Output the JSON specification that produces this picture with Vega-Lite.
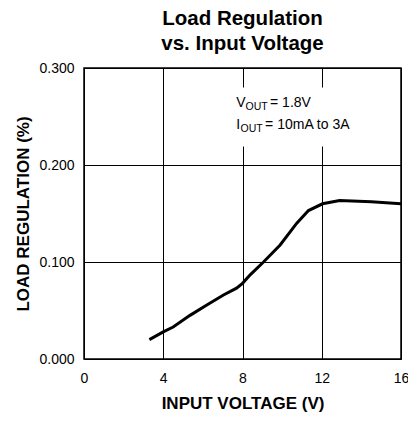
{
  "$schema": "https://vega.github.io/schema/vega-lite/v6.json",
  "width": 317,
  "height": 291,
  "autosize": "none",
  "padding": {"left": 84, "top": 68, "right": 7, "bottom": 63},
  "background": "white",
  "config": {
    "font": "Liberation Sans",
    "view": {"stroke": "#000", "strokeWidth": 1.5},
    "axis": {
      "grid": true,
      "gridColor": "#000",
      "gridOpacity": 1,
      "gridWidth": 1,
      "ticks": false,
      "domain": false,
      "labelFlush": false,
      "labelFontSize": 14,
      "labelColor": "#000",
      "titleColor": "#000",
      "titleFontSize": 17,
      "titleFontWeight": "bold"
    },
    "title": {"fontSize": 20.5, "fontWeight": "bold", "color": "#000", "anchor": "middle", "lineHeight": 25, "offset": 7}
  },
  "title": {"text": ["Load Regulation", "vs. Input Voltage"]},
  "datasets": {
    "curve": [
      {"vin": 3.3, "reg": 0.020},
      {"vin": 4.0, "reg": 0.028},
      {"vin": 4.5, "reg": 0.033},
      {"vin": 5.35, "reg": 0.045},
      {"vin": 6.2, "reg": 0.0557},
      {"vin": 7.04, "reg": 0.066},
      {"vin": 7.7, "reg": 0.073},
      {"vin": 8.0, "reg": 0.078},
      {"vin": 8.4, "reg": 0.087},
      {"vin": 9.06, "reg": 0.100},
      {"vin": 9.9, "reg": 0.1175},
      {"vin": 10.74, "reg": 0.140},
      {"vin": 11.33, "reg": 0.153},
      {"vin": 12.04, "reg": 0.160},
      {"vin": 12.9, "reg": 0.1635},
      {"vin": 14.5, "reg": 0.162},
      {"vin": 16.0, "reg": 0.160}
    ],
    "box": [{"x1": 7.3, "x2": 14.0, "y1": 0.219, "y2": 0.280}],
    "notes": [
      {"x": 7.68, "y": 0.2596, "t": "V", "kind": "main"},
      {"x": 8.155, "y": 0.2596, "t": "OUT", "kind": "sub"},
      {"x": 9.39, "y": 0.2596, "t": "= 1.8V", "kind": "main"},
      {"x": 7.68, "y": 0.2366, "t": "I", "kind": "main"},
      {"x": 7.9, "y": 0.2366, "t": "OUT", "kind": "sub"},
      {"x": 9.14, "y": 0.2366, "t": "= 10mA to 3A", "kind": "main"}
    ]
  },
  "layer": [
    {
      "data": {"name": "curve"},
      "mark": {"type": "line", "color": "#000", "strokeWidth": 3, "clip": true},
      "encoding": {
        "x": {
          "field": "vin", "type": "quantitative",
          "scale": {"domain": [0, 16], "nice": false},
          "axis": {"values": [0, 4, 8, 12, 16], "labelPadding": 12, "titlePadding": 10, "title": "INPUT VOLTAGE (V)"}
        },
        "y": {
          "field": "reg", "type": "quantitative",
          "scale": {"domain": [0, 0.3], "nice": false, "zero": false},
          "axis": {"values": [0, 0.1, 0.2, 0.3], "format": ".3f", "labelPadding": 10, "titlePadding": 6, "title": "LOAD REGULATION (%)"}
        }
      }
    },
    {
      "data": {"name": "box"},
      "mark": {"type": "rect", "color": "white"},
      "encoding": {
        "x": {"field": "x1", "type": "quantitative"},
        "x2": {"field": "x2"},
        "y": {"field": "y1", "type": "quantitative"},
        "y2": {"field": "y2"}
      }
    },
    {
      "data": {"name": "notes"},
      "transform": [{"filter": "datum.kind === 'main'"}],
      "mark": {"type": "text", "align": "left", "baseline": "alphabetic", "fontSize": 14, "color": "#000"},
      "encoding": {
        "x": {"field": "x", "type": "quantitative"},
        "y": {"field": "y", "type": "quantitative"},
        "text": {"field": "t"}
      }
    },
    {
      "data": {"name": "notes"},
      "transform": [{"filter": "datum.kind === 'sub'"}],
      "mark": {"type": "text", "align": "left", "baseline": "alphabetic", "fontSize": 10.5, "dy": 3, "color": "#000"},
      "encoding": {
        "x": {"field": "x", "type": "quantitative"},
        "y": {"field": "y", "type": "quantitative"},
        "text": {"field": "t"}
      }
    }
  ]
}
